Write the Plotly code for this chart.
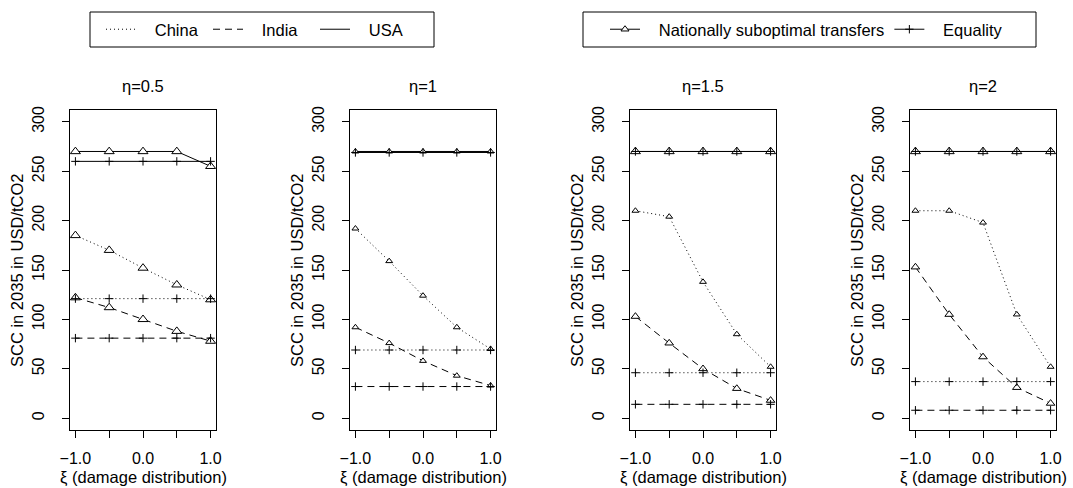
import plotly.graph_objects as go

# ---------------- data ----------------
xi = [-1.0, -0.5, 0.0, 0.5, 1.0]
etas = ["0.5", "1", "1.5", "2"]

china_nst = [[185, 170, 152, 135, 120],
             [192, 159, 124, 92, 70],
             [210, 204, 138, 85, 52],
             [210, 210, 198, 105, 52]]
china_eq = [121, 69, 46, 37]

india_nst = [[122, 112, 100, 88, 78],
             [92, 76, 58, 43, 33],
             [103, 76, 50, 30, 18],
             [153, 105, 62, 31, 15]]
india_eq = [81, 32, 14, 8]

usa_nst = [[270, 270, 270, 270, 255],
           [270, 270, 270, 270, 270],
           [270, 270, 270, 270, 270],
           [270, 270, 270, 270, 270]]
usa_eq = [260, 269, 270, 270]

y_ticks = [0, 50, 100, 150, 200, 250, 300]
x_ticks = [-1.0, -0.5, 0.0, 0.5, 1.0]
x_ticktext = ["\u22121.0", "", "0.0", "", "1.0"]

# ---------------- style ----------------
W, H = 1073, 488
FONT = "Liberation Sans, Arial, sans-serif"
FS = 16
FS_TXT = 16.5
panel_left = [70, 350, 630, 910]
panel_w = 146
top_px, bot_px = 110, 430
dash = {"China": "1px,3px", "India": "7px,5px", "USA": "solid"}
tri_size = [
    {"China": 8.7, "India": 8.7, "USA": 8.7},
    {"China": 6, "India": 6, "USA": 6},
    {"China": 6, "India": 7.5, "USA": 8.7},
    {"China": 6, "India": 7.5, "USA": 8.7},
]
plus_size = 6
NB = "\u00a0"

def px(x):
    return x / W

def py(y):
    return 1 - y / H

fig = go.Figure()

countries = ["China", "India", "USA"]
nst = {"China": china_nst, "India": india_nst, "USA": usa_nst}
eq = {"China": china_eq, "India": india_eq, "USA": usa_eq}

for p in range(4):
    ax = "" if p == 0 else str(p + 1)
    for c in countries:
        fig.add_trace(go.Scatter(
            x=xi, y=nst[c][p], mode="lines+markers",
            line=dict(color="black", width=1, dash=dash[c]),
            marker=dict(symbol="triangle-up", size=tri_size[p][c], color="white",
                        line=dict(color="black", width=1)),
            xaxis="x" + ax, yaxis="y" + ax, showlegend=False, hoverinfo="skip"))
    for c in countries:
        fig.add_trace(go.Scatter(
            x=xi, y=[eq[c][p]] * len(xi), mode="lines+markers",
            line=dict(color="black", width=1, dash=dash[c]),
            marker=dict(symbol="cross-thin", size=plus_size, color="black",
                        line=dict(color="black", width=1)),
            xaxis="x" + ax, yaxis="y" + ax, showlegend=False, hoverinfo="skip"))

# legend-only traces
for c in countries:
    fig.add_trace(go.Scatter(x=[None], y=[None], mode="lines", name=NB * 3 + c,
                             line=dict(color="black", width=1, dash=dash[c]),
                             legend="legend", showlegend=True))
fig.add_trace(go.Scatter(x=[None], y=[None], mode="lines+markers",
                         name=NB * 3 + "Nationally suboptimal transfers",
                         line=dict(color="black", width=1),
                         marker=dict(symbol="triangle-up", size=7, color="white",
                                     line=dict(color="black", width=1)),
                         legend="legend2", showlegend=True))
fig.add_trace(go.Scatter(x=[None], y=[None], mode="lines+markers",
                         name=NB * 3 + "Equality",
                         line=dict(color="black", width=1),
                         marker=dict(symbol="cross-thin", size=plus_size, color="black",
                                     line=dict(color="black", width=1)),
                         legend="legend2", showlegend=True))

layout = dict(
    width=W, height=H,
    margin=dict(l=0, r=0, t=0, b=0),
    paper_bgcolor="white", plot_bgcolor="white",
    font=dict(family=FONT, size=FS, color="black"),
    legend=dict(orientation="h", x=px(101), y=py(12), xanchor="left", yanchor="top",
                bgcolor="rgba(0,0,0,0)", borderwidth=0, font=dict(size=FS_TXT),
                entrywidth=62, entrywidthmode="pixels", traceorder="normal"),
    legend2=dict(orientation="h", x=px(605), y=py(12), xanchor="left", yanchor="top",
                 bgcolor="rgba(0,0,0,0)", borderwidth=0, font=dict(size=FS_TXT),
                 traceorder="normal"),
    shapes=[
        dict(type="rect", xref="paper", yref="paper", x0=px(90), x1=px(434),
             y0=py(47), y1=py(12), line=dict(color="black", width=1)),
        dict(type="rect", xref="paper", yref="paper", x0=px(583), x1=px(1036),
             y0=py(47), y1=py(12), line=dict(color="black", width=1)),
    ],
    annotations=[],
)

for p in range(4):
    ax = "" if p == 0 else str(p + 1)
    x0 = panel_left[p]
    x1 = x0 + panel_w
    layout["xaxis" + ax] = dict(
        domain=[px(x0), px(x1)], range=[-1.08, 1.08], anchor="y" + ax,
        tickvals=x_ticks, ticktext=x_ticktext, ticks="outside", ticklen=7,
        ticklabelstandoff=7,
        tickcolor="black", showline=True, linecolor="black", linewidth=1,
        mirror=True, showgrid=False, zeroline=False, automargin=False,
        tickfont=dict(size=FS, family=FONT))
    layout["yaxis" + ax] = dict(
        domain=[py(bot_px), py(top_px)], range=[-12, 312], anchor="x" + ax,
        tickvals=y_ticks, ticks="outside", ticklen=7, tickangle=-90,
        ticklabelstandoff=12,
        tickcolor="black", showline=True, linecolor="black", linewidth=1,
        mirror=True, showgrid=False, zeroline=False, automargin=False,
        tickfont=dict(size=FS, family=FONT))
    cx = (x0 + x1) / 2
    layout["annotations"] += [
        dict(text="\u03b7=" + etas[p], x=px(cx), y=py(86), xref="paper", yref="paper",
             showarrow=False, xanchor="center", yanchor="middle", font=dict(size=FS_TXT)),
        dict(text="\u03be (damage distribution)", x=px(cx), y=py(477), xref="paper",
             yref="paper", showarrow=False, xanchor="center", yanchor="middle",
             font=dict(size=FS_TXT)),
        dict(text="SCC in 2035 in USD/tCO2", x=px(x0 - 53), y=py((top_px + bot_px) / 2),
             xref="paper", yref="paper", showarrow=False, textangle=-90,
             xanchor="center", yanchor="middle", font=dict(size=FS_TXT)),
    ]

fig.update_layout(**layout)
fig.write_html("out.html", config={"displayModeBar": False},
               post_script="document.body.style.margin='0';")
